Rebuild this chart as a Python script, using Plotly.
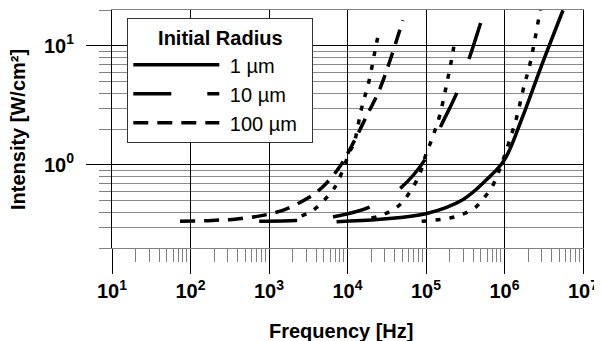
import plotly.graph_objects as go

FONT = "Liberation Sans, Arial, sans-serif"

# ---- data ----
freq_1um = [7.26e3, 2.58e4, 9.94e4, 2.94e5, 5.89e5, 9.98e5, 1.64e6, 2.98e6, 5.56e6]
int_1um = [0.333, 0.349, 0.388, 0.509, 0.748, 1.10, 2.38, 6.89, 19.9]

freq_10um = [750, 2250, 3840, 6560, 19300, 47300, 96600, 157000, 256000, 361000, 509000]
int_10um = [0.335, 0.340, 0.349, 0.365, 0.442, 0.638, 1.10, 2.16, 4.26, 8.09, 16.4]

freq_100um = [73.5, 187, 390, 836, 1590, 3130, 4900, 8000, 11800, 17400, 25500, 36100, 50600]
int_100um = [0.335, 0.341, 0.351, 0.376, 0.421, 0.526, 0.658, 0.968, 1.52, 2.55, 4.26, 8.1, 16.4]

freq_1um_b = [8.8e4, 1.29e5, 2.01e5, 2.83e5, 4.18e5, 5.44e5, 6.82e5, 8.28e5, 9.6e5,
              1.22e6, 1.42e6, 1.81e6, 2.04e6, 2.4e6, 2.85e6]
int_1um_b = [0.335, 0.343, 0.357, 0.381, 0.434, 0.526, 0.638, 0.851, 1.10,
             1.78, 2.46, 4.86, 6.38, 10.7, 20.0]

freq_10um_b = [20200, 28400, 46400, 79200, 99400, 122000, 150000, 179000, 211000, 226000]
int_10um_b = [0.357, 0.381, 0.462, 0.778, 1.21, 1.72, 2.62, 4.42, 7.59, 9.81]

freq_100um_b = [2600, 3660, 6270, 7600, 10700, 12100, 15100, 18700, 23400, 25100]
int_100um_b = [0.373, 0.416, 0.595, 0.73, 1.29, 1.52, 2.98, 4.99, 10.5, 13.0]

x_tickvals = [1e1, 1e2, 1e3, 1e4, 1e5, 1e6, 1e7]
x_ticktext = ["<b>10<sup>%d</sup></b>" % e for e in range(1, 8)]
y_tickvals = [1, 10]
y_ticktext = ["<b>10<sup>0</sup></b>", "<b>10<sup>1</sup></b>"]
x_minor = [m * 10 ** e for e in range(1, 7) for m in range(2, 10)]
y_minor = [0.2, 0.3, 0.4, 0.5, 0.6, 0.7, 0.8, 0.9, 2, 3, 4, 5, 6, 7, 8, 9, 20]

LW = 3.5
NB = "\u00a0"
TR = "\u2002"
fig = go.Figure()
fig.add_trace(go.Scatter(x=freq_1um, y=int_1um, mode="lines", name=NB + "1 µm" + TR,
                         line=dict(color="black", width=LW, shape="spline")))
fig.add_trace(go.Scatter(x=freq_10um, y=int_10um, mode="lines", name=NB + "10 µm" + TR,
                         line=dict(color="black", width=LW, shape="spline", dash="38px,36px")))
fig.add_trace(go.Scatter(x=freq_100um, y=int_100um, mode="lines", name=NB + "100 µm" + TR,
                         line=dict(color="black", width=LW, shape="spline", dash="15px,9px")))
for fx, iy in [(freq_1um_b, int_1um_b), (freq_10um_b, int_10um_b), (freq_100um_b, int_100um_b)]:
    fig.add_trace(go.Scatter(x=fx, y=iy, mode="lines", showlegend=False,
                             line=dict(color="black", width=LW, shape="spline", dash="5px,9px")))

# the page body adds an 8 px offset, so the figure is laid out 8 px smaller
fig.update_layout(
    width=594, height=333,
    margin=dict(l=104, r=19, t=2, b=93, autoexpand=False),
    paper_bgcolor="white", plot_bgcolor="white",
    font=dict(family=FONT, color="black"),
    xaxis=dict(type="log", range=[1, 7], tickmode="array", tickvals=x_tickvals, ticktext=x_ticktext,
               ticks="outside", ticklen=25, tickwidth=1, tickcolor="black", automargin=False,
               showgrid=True, gridcolor="black", gridwidth=1, zeroline=False,
               showline=True, linecolor="#808080", linewidth=1, mirror=True,
               tickfont=dict(family=FONT, size=20, color="black"),
               minor=dict(tickmode="array", tickvals=x_minor, ticks="outside", ticklen=13,
                          tickcolor="#808080", tickwidth=1, showgrid=False)),
    yaxis=dict(type="log", range=[-0.69897, 1.30103], tickmode="array", tickvals=y_tickvals,
               ticktext=y_ticktext, ticks="outside", ticklen=25, tickwidth=1, tickcolor="black",
               showgrid=True, gridcolor="black", gridwidth=1, zeroline=False, automargin=False,
               showline=True, linecolor="black", linewidth=1, mirror=True,
               ticklabelstandoff=8,
               tickfont=dict(family=FONT, size=20, color="black"),
               minor=dict(tickmode="array", tickvals=y_minor, ticks="outside", ticklen=12,
                          tickcolor="#808080", tickwidth=1, showgrid=True,
                          gridcolor="#8a8a8a", gridwidth=1)),
    legend=dict(x=0.0325, y=0.9652, xanchor="left", yanchor="top",
                bgcolor="white", bordercolor="#333333", borderwidth=1,
                font=dict(family=FONT, size=20, color="black"),
                title=dict(text="<b>Initial Radius</b>", side="top center",
                           font=dict(family=FONT, size=20, color="black")),
                itemwidth=86, tracegroupgap=0),
    annotations=[
        dict(text="<b>Frequency [Hz]</b>", xref="paper", yref="paper",
             x=(341 - 112) / 471, y=(248 - 330.5) / 238, xanchor="center", yanchor="middle",
             showarrow=False, font=dict(family=FONT, size=20, color="black")),
        dict(text="<b>Intensity [W/cm²]</b>", xref="paper", yref="paper",
             x=(18 - 112) / 471, y=(248 - 130) / 238, xanchor="center", yanchor="middle",
             textangle=-90, showarrow=False, font=dict(family=FONT, size=20, color="black")),
    ],
)

fig.write_html("out.html")
